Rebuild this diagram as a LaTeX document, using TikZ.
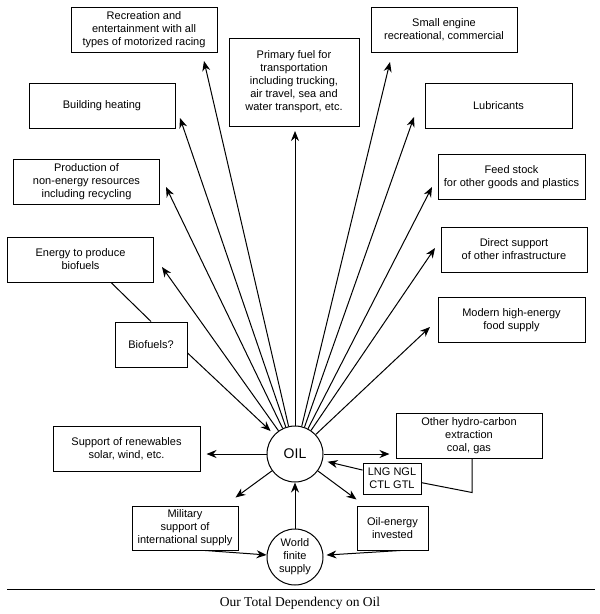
\documentclass[tikz,border=0pt]{standalone}
\usepackage{fontspec}
\setmainfont{Liberation Sans}
\newfontfamily\capfont{Liberation Serif}
\usetikzlibrary{arrows.meta}

\begin{document}
\begin{tikzpicture}[x=1pt, y=-1pt, line width=1pt,
		box/.style={draw, rectangle, align=center, inner sep=0pt, minimum width=146pt, minimum height=45pt, font=\fontsize{11}{13}\selectfont},
		ball/.style={draw, circle, align=center, inner sep=0pt, minimum size=56pt, font=\fontsize{11}{13}\selectfont},
		arr/.style={-{Stealth[length=10pt, width=8pt]}}]
		\useasboundingbox (0,0) rectangle (600,614);
		% uses of oil, left column
		\node[box] (rec) at (144,29.5) {Recreation and\\entertainment with all\\types of motorized racing};
		\node[box] (bldg) at (102,105.5) {Building heating};
		\node[box] (prod) at (86.5,182) {Production of\\non-energy resources\\including recycling};
		\node[box] (enbio) at (80.5,259.5) {Energy to produce\\biofuels};
		\node[box, minimum width=72pt] (biofq) at (151,344.5) {Biofuels?};
		\node[box, minimum width=147pt] (renew) at (126.5,448.5) {Support of renewables\\solar, wind, etc.};
		% middle
		\node[box, minimum width=130pt, minimum height=88pt] (prim) at (294,82) {Primary fuel for\\transportation\\including trucking,\\air travel, sea and\\water transport, etc.};
		\node[ball, font=\fontsize{14}{16}\selectfont] (oil) at (295,454) {OIL};
		\node[ball] (world) at (295,557) {World\\finite\\supply};
		% right column
		\node[box] (small) at (444,29.5) {Small engine\\recreational, commercial};
		\node[box, minimum width=147pt] (lub) at (498.5,105.5) {Lubricants};
		\node[box, minimum width=147pt] (feed) at (511.5,177) {Feed stock\\for other goods and plastics};
		\node[box] (direct) at (514,249.5) {Direct support\\of other infrastructure};
		\node[box, minimum width=147pt] (modern) at (511.5,320) {Modern high-energy\\food supply};
		\node[box] (hydro) at (469,435.5) {Other hydro-carbon\\extraction\\coal, gas};
		\node[box, minimum width=58pt, minimum height=31pt] (lng) at (392,478.5) {LNG NGL\\CTL GTL};
		% bottom
		\node[box, minimum width=106pt, minimum height=44pt] (military) at (185,528) {Military\\support of\\international supply};
		\node[box, minimum width=71pt, minimum height=44pt] (invest) at (392.5,528) {Oil-energy\\invested};

		% arrow tips of the fan
		\coordinate (tip-enbio) at (162,267);
		\coordinate (tip-prod) at (166,187);
		\coordinate (tip-bldg) at (180,118);
		\coordinate (tip-rec) at (204,61);
		\coordinate (tip-prim) at (295,131);
		\coordinate (tip-small) at (390,62);
		\coordinate (tip-lub) at (414,117);
		\coordinate (tip-feed) at (432,187);
		\coordinate (tip-direct) at (435,248);
		\coordinate (tip-modern) at (430,327);
		\foreach \t in {enbio,prod,bldg,rec,prim,small,lub,feed,direct,modern}
			\draw[arr] (oil) -- (tip-\t);

		\draw (enbio.-37) -- (biofq.north);
		\draw[arr, shorten >=5pt] (biofq.-13) -- (oil);
		\draw[arr, shorten >=6pt] (oil.west) -- (oil.west -| renew.east);
		\draw[arr, shorten >=6pt] (oil.east) -- (oil.east -| hydro.west);
		\draw ([xshift=3pt]hydro.south) -- ++(0,34) -- (lng.-8);
		\draw[arr, shorten >=5pt] (lng.164) -- (oil);
		\draw[arr] (oil) -- ([yshift=6pt]invest.north west);
		\draw[arr] (oil) -- ([xshift=-3pt, yshift=8pt]military.north east);
		\draw[arr] (world) -- (oil);
		\draw[arr] (military.-48) -- (world);
		\draw[arr, shorten >=3pt] (invest.-71) -- (world);

		% caption
		\draw[line width=0.6pt] (7,589) -- (595,589);
		\node[font=\capfont\fontsize{13.5}{16}\selectfont] (cap) at (300,603) {Our Total Dependency on Oil};
	\end{tikzpicture}
\end{document}
